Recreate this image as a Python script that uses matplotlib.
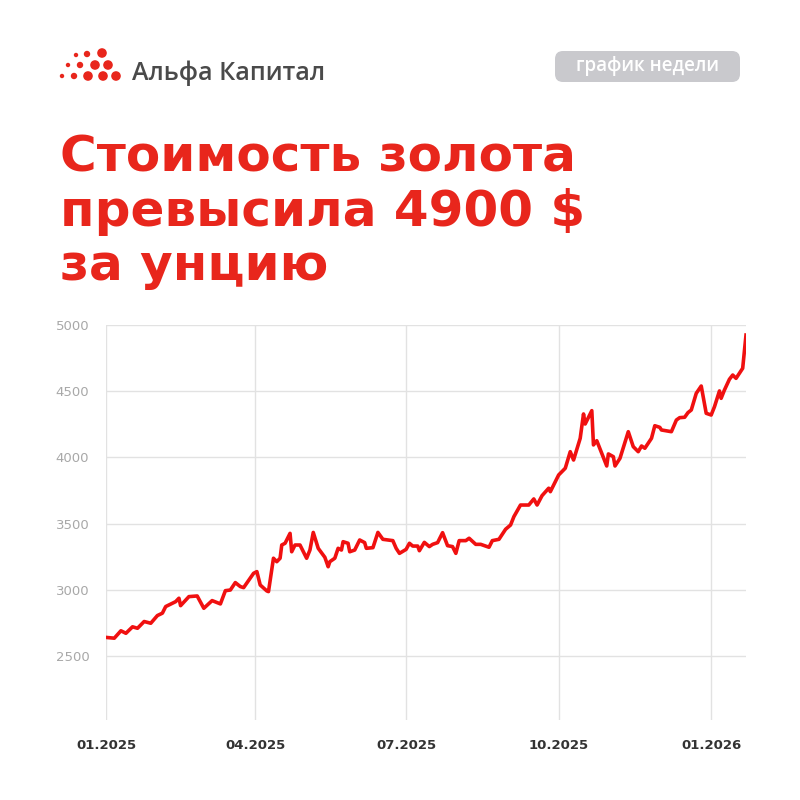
import matplotlib
matplotlib.use("Agg")
import matplotlib.pyplot as plt
import pandas as pd
from matplotlib.patches import FancyBboxPatch, Circle

days = [0,5,9,12,16,19,23,27,31,34,36,42,44,45,50,55,59,64,69,72,75,78,81,83,89,91,93,97,98,101,103,105,106,108,111,112,114,117,121,123,125,128,132,134,135,138,140,142,143,146,147,150,153,156,157,161,164,167,173,175,177,181,183,185,188,189,192,195,197,200,203,206,209,211,213,217,219,223,226,231,233,237,241,244,246,250,255,258,260,263,267,268,273,277,280,282,286,288,289,293,294,296,302,303,306,307,310,315,318,321,323,325,329,331,334,335,341,344,346,349,351,353,356,359,362,365,367,370,371,373,376,378,380,384,386]
prices = [2640,2634,2690,2671,2720,2709,2760,2747,2805,2823,2873,2910,2936,2880,2948,2953,2860,2918,2893,2993,2998,3054,3024,3016,3124,3137,3036,2991,2986,3238,3212,3238,3338,3351,3426,3287,3338,3338,3238,3300,3433,3313,3245,3174,3212,3238,3313,3300,3363,3351,3287,3300,3376,3356,3313,3318,3433,3381,3371,3313,3275,3305,3351,3330,3330,3295,3358,3326,3343,3356,3431,3333,3326,3275,3371,3371,3389,3343,3343,3321,3371,3381,3457,3489,3552,3640,3640,3686,3640,3711,3767,3741,3867,3918,4043,3980,4144,4328,4252,4353,4094,4126,3935,4026,4005,3935,3993,4194,4081,4043,4086,4069,4144,4239,4227,4207,4194,4282,4300,4303,4338,4358,4484,4539,4333,4320,4383,4502,4446,4509,4590,4622,4597,4673,4924]
tick_dates = ["2025-01-01","2025-04-01","2025-07-01","2025-10-01","2026-01-01"]
tick_labels = ["01.2025","04.2025","07.2025","10.2025","01.2026"]
y_ticks = [2500,3000,3500,4000,4500,5000]
title_lines = ["Стоимость золота", "превысила 4900 $", "за унцию"]

dates = pd.Timestamp("2025-01-01") + pd.to_timedelta(days, unit="D")
RED = "#E8261C"

fig = plt.figure(figsize=(8, 8), dpi=100)
fig.patch.set_facecolor("white")

ov = fig.add_axes([0, 0, 1, 1])
ov.set_xlim(0, 800); ov.set_ylim(800, 0); ov.axis("off")
dots = [(76,55,2.2),(87,54,3.2),(102,53,4.8),(68,65,2.2),(80,65,3.2),(95,65,4.8),(108,65,4.8),(62,76,2.2),(74,76,3.2),(88,76,4.8),(103,76,4.8),(116,76,4.8)]
for x, y, r in dots:
    ov.add_patch(Circle((x, y), r, color=RED, lw=0))
ov.text(132, 73, "Альфа Капитал", fontsize=18, color="#4a4a4a", fontfamily="Open Sans",
        fontweight="semibold", va="center", ha="left")
ov.add_patch(FancyBboxPatch((555, 51), 185, 31, boxstyle="round,pad=0,rounding_size=8",
                            fc="#c9c9cd", ec="none"))
ov.text(647, 66, "график недели", fontsize=13.5, color="white", fontfamily="Open Sans",
        fontweight="semibold", va="center", ha="center")
for i, line in enumerate(title_lines):
    ov.text(60, 158 + i * 54, line, fontsize=36, color=RED, fontfamily="DejaVu Sans",
            fontweight="bold", va="center", ha="left")

ax = fig.add_axes([106/800, 80/800, 640/800, 395/800])
ax.plot(dates, prices, color="#F01010", lw=2.6, solid_joinstyle="round")
ax.set_xlim(pd.Timestamp("2025-01-01"), pd.Timestamp("2026-01-22"))
ax.set_ylim(2016, 5000)
ax.set_yticks(y_ticks)
ax.set_yticklabels([str(v) for v in y_ticks], color="#a8a8a8", fontsize=9.5)
ax.set_xticks(pd.to_datetime(tick_dates))
ax.set_xticklabels(tick_labels, color="#333333", fontsize=9.5, fontweight="bold")
ax.grid(True, color="#e2e2e2", lw=1)
for s in ax.spines.values():
    s.set_visible(False)
ax.tick_params(length=0, pad=12)
ax.tick_params(axis="x", pad=14)
fig.savefig("out.png", dpi=100, facecolor="white")
